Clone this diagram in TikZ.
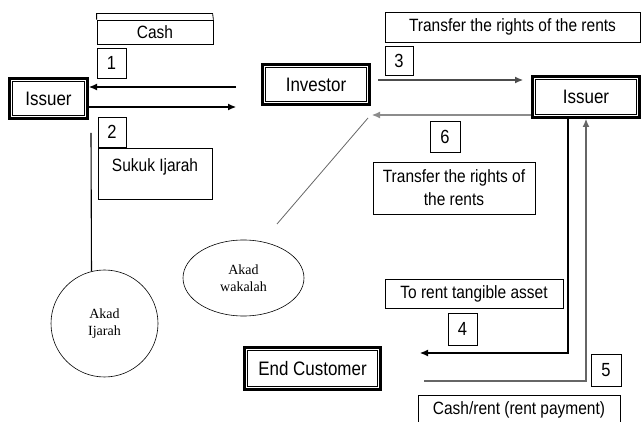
\documentclass[tikz,border=0pt]{standalone}
\usepackage{fontspec}
\setmainfont[FakeStretch=0.87]{Liberation Sans}
\newfontfamily\akadfont{Liberation Serif}
\usetikzlibrary{shapes.geometric, arrows.meta}

\begin{document}
\begin{tikzpicture}[x=1pt, y=-1pt,
        party/.style={draw, fill=white, line width=0.7pt, double=white, double distance=1.6pt,
            preaction={draw=black, line width=7pt}, outer sep=3.5pt, inner sep=0pt,
            font=\fontsize{19.5}{22}\selectfont},
        lbl/.style={draw, line width=0.8pt, inner sep=0pt, font=\fontsize{17.8}{23}\selectfont},
        num/.style={draw, line width=0.8pt, inner sep=0pt, font=\fontsize{19}{22}\selectfont},
        akad/.style={draw, line width=0.6pt, align=center, inner sep=0pt,
            font=\akadfont\fontsize{14}{17}\selectfont},
        arr/.style={-{Latex[length=8pt, width=7pt]}, line width=1.1pt}]
            \useasboundingbox (0,0) rectangle (641,422);

            \node[party, minimum width=74, minimum height=36] (IsL) at (48.5,98.5) {Issuer};
            \node[party, minimum width=103, minimum height=36] (Inv) at (316,84.5) {Investor};
            \node[party, minimum width=103, minimum height=37] (IsR) at (586,97) {Issuer};
            \node[party, minimum width=132, minimum height=38] (EC) at (312.5,368.5) {End Customer};

            \node[lbl, minimum width=116, minimum height=24] (Cash) at (155,32) {Cash};
            \draw[line width=0.8pt] (Cash.north west) -- ++(0,-6) -- ++(116,0) -- (Cash.north east);
            \node[lbl, minimum width=114, text height=19, text depth=24, inner sep=4, anchor=north] (Suk) at (155,148) {Sukuk Ijarah};
            \node[lbl, minimum width=255, minimum height=30] (T3) at (512.5,27) {Transfer the rights of the rents};
            \node[lbl, minimum width=162, minimum height=52, align=center] (T6) at (454,188) {Transfer the rights of\\the rents};
            \node[lbl, minimum width=178, minimum height=29] (Rent) at (474,293.5) {To rent tangible asset};
            \node[lbl, minimum width=202, minimum height=30] (Pay) at (519,410) {Cash/rent (rent payment)};

            \node[num, minimum width=29, minimum height=30] (N1) at (111.5,63) {1};
            \node[num, minimum width=28, minimum height=30] (N2) at (112,132) {2};
            \node[num, minimum width=28, minimum height=29] (N3) at (399,60.5) {3};
            \node[num, minimum width=29, minimum height=32] (N4) at (462.5,329) {4};
            \node[num, minimum width=30, minimum height=32] (N5) at (606,370) {5};
            \node[num, minimum width=30, minimum height=31] (N6) at (445,136.5) {6};

            \node[akad, circle, minimum size=107] (Ij) at (104.5,323.5) {Akad\\Ijarah};
            \node[akad, ellipse, minimum width=121, minimum height=76] (Wk) at (243.5,278) {Akad\\wakalah};

            \coordinate (c1) at (236,87);
            \coordinate (c2) at (236,107);
            \coordinate (c3) at (91,133);
            \coordinate (w1) at (277,224);
            \coordinate (w2) at (368,118);
            \coordinate (c4) at (420,353);
            \coordinate (c5) at (424,381);

            \draw[arr] (c1) -- (c1 -| IsL.east);
            \draw[arr] (c2 -| IsL.east) -- (c2);
            \draw[line width=1.1pt] (c3) -- (Ij.104);
            \draw[arr, black!70, shorten <=7pt, shorten >=8pt] (Inv.east |- 0,80) -- (IsR.west |- 0,80);
            \draw[arr, black!45, shorten >=1pt] (IsR.west |- 0,115) -- (Inv.east |- 0,115);
            \draw[line width=0.8pt, black!60] (w1) -- (w2);
            \draw[arr] (IsR.south -| 568,0) |- (c4);
            \draw[arr, black!60] (c5) -| (IsR.south -| 586,0);
        \end{tikzpicture}
\end{document}
